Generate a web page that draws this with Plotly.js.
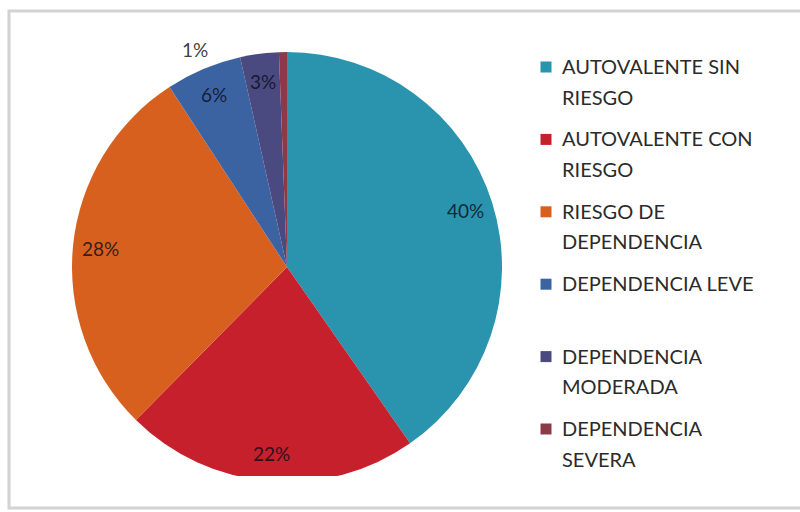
<!DOCTYPE html>
<html>
<head>
<meta charset="utf-8">
<script src="https://cdn.plot.ly/plotly-3.0.1.min.js"></script>
<style>
  html, body { margin: 0; padding: 0; background: #fff; }
  #chart { width: 800px; height: 512px; }
</style>
</head>
<body>
<div id="chart"></div>
<script>
// ---- data ----
const categories = [
  "AUTOVALENTE SIN RIESGO",
  "AUTOVALENTE CON RIESGO",
  "RIESGO DE DEPENDENCIA",
  "DEPENDENCIA LEVE",
  "DEPENDENCIA MODERADA",
  "DEPENDENCIA SEVERA"
];
const legendLines = [
  ["AUTOVALENTE SIN", "RIESGO"],
  ["AUTOVALENTE CON", "RIESGO"],
  ["RIESGO DE", "DEPENDENCIA"],
  ["DEPENDENCIA LEVE"],
  ["DEPENDENCIA", "MODERADA"],
  ["DEPENDENCIA", "SEVERA"]
];
const values = [40.3, 22.1, 28.4, 5.7, 2.9, 0.6];
const colors = ["#2A93AE", "#C5202B", "#D7601F", "#3B63A1", "#4A4A80", "#8C3A47"];

// ---- layout geometry ----
const W = 800, H = 512;
const cxPx = 287, cyPx = 267, Rpx = 215;
const domX = [(cxPx - Rpx) / W, (cxPx + Rpx) / W];
const domY = [1 - (cyPx + Rpx) / H, 1 - (cyPx - Rpx) / H];

const total = values.reduce((a, b) => a + b, 0);
const annotations = [];
let cum = 0;
values.forEach((v, i) => {
  const a0 = cum / total * 2 * Math.PI;
  cum += v;
  const a1 = cum / total * 2 * Math.PI;
  const mid = (a0 + a1) / 2;
  const small = v / total < 0.02;
  const rr = small ? 1.08 : 0.87;
  const px = cxPx + rr * Rpx * Math.sin(mid);
  const py = cyPx - rr * Rpx * Math.cos(mid);
  const pct = Math.max(1, Math.round(v / total * 100));
  annotations.push({
    x: px / W, y: 1 - py / H, xref: "paper", yref: "paper",
    xanchor: "center", yanchor: "middle",
    text: pct + "%",
    showarrow: false,
    xshift: small ? -88 : 0, yshift: small ? -15 : 0,
    font: { family: "Lato, 'Open Sans', sans-serif", size: 19, color: small ? "rgba(40,40,40,0.9)" : "rgba(10,10,25,0.8)" }
  });
});

// manual legend
const legX = 560, legY0 = 66, legStep = 72.4, lineStep = 30.6;
const shapes = [
  // frame
  { type: "rect", xref: "paper", yref: "paper", layer: "below",
    x0: 9 / W, x1: 1.02, y0: 1 - 508 / H, y1: 1 - 11 / H,
    line: { color: "#d2d2d2", width: 3 }, fillcolor: "rgba(0,0,0,0)" },
  // flat cut at bottom of pie
  { type: "rect", xref: "paper", yref: "paper", layer: "above",
    x0: 60 / W, x1: 520 / W, y0: 1 - 495 / H, y1: 1 - 476 / H,
    line: { width: 0 }, fillcolor: "#ffffff" }
];
legendLines.forEach((lines, i) => {
  const yTop = legY0 + i * legStep;
  shapes.push({
    type: "rect", xref: "paper", yref: "paper",
    x0: 540.5 / W, x1: 551.5 / W, y0: 1 - (yTop + 6.5) / H, y1: 1 - (yTop - 4.5) / H,
    line: { width: 0 }, fillcolor: colors[i]
  });
  lines.forEach((t, j) => {
    annotations.push({
      x: legX / W, y: 1 - (yTop + j * lineStep) / H, xref: "paper", yref: "paper",
      xanchor: "left", yanchor: "middle", text: t, showarrow: false,
      font: { family: "Lato, 'Open Sans', sans-serif", size: 20, color: "#2b2b2b" }
    });
  });
});

const trace = {
  type: "pie",
  labels: categories,
  values: values,
  marker: { colors: colors, line: { width: 0 } },
  sort: false,
  direction: "clockwise",
  rotation: 0,
  textinfo: "none",
  hoverinfo: "label+percent",
  domain: { x: domX, y: domY },
  showlegend: false
};

const layout = {
  width: W, height: H,
  margin: { l: 0, r: 0, t: 0, b: 0 },
  paper_bgcolor: "#ffffff",
  showlegend: false,
  shapes: shapes,
  annotations: annotations
};

Plotly.newPlot("chart", [trace], layout, { displayModeBar: false, staticPlot: true });
</script>
</body>
</html>
